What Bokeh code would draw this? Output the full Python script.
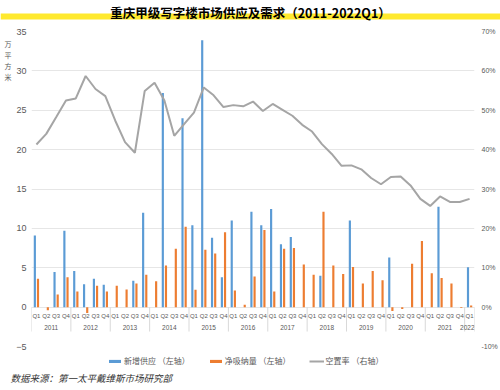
from bokeh.plotting import figure
from bokeh.layouts import column, row
from bokeh.models import (ColumnDataSource, Range1d, LinearAxis, FixedTicker,
                          PrintfTickFormatter, Legend, LegendItem, Label, BoxAnnotation)
from bokeh.transform import dodge
from bokeh.core.properties import value
from bokeh.embed import file_html
from bokeh.resources import INLINE

# ---------------- data ----------------
years = ["2011", "2012", "2013", "2014", "2015", "2016",
         "2017", "2018", "2019", "2020", "2021", "2022"]
quarters_per_year = [4, 4, 4, 4, 4, 4, 4, 4, 4, 4, 4, 1]

# 新增供应 (万平方米, left axis)
supply = [9.1, 0, 4.45, 9.7,
          4.6, 2.9, 3.6, 2.85,
          0, 0, 3.35, 12.0,
          0, 27.2, 0, 24.0,
          10.4, 33.9, 8.8, 3.8,
          11.0, 0, 12.1, 10.4,
          12.45, 8.0, 8.9, 0,
          0, 4.0, 0, 0,
          11.0, 0, 0, 0,
          6.3, 0, 0, 0,
          0, 12.75, 0, 0,
          5.05]

# 净吸纳量 (万平方米, left axis)
absorption = [3.6, -0.4, 1.6, 3.8,
              2.0, -0.75, 2.7, 2.0,
              2.7, 2.25, 3.0, 4.1,
              3.3, 5.3, 7.4, 10.2,
              2.2, 7.3, 6.8, 9.5,
              2.1, 0.3, 3.9, 9.8,
              2.0, 7.4, 7.5, 5.4,
              4.1, 12.1, 5.3, 4.2,
              5.1, 3.0, 4.6, 3.4,
              -0.5, -0.25, 5.5, 8.4,
              4.3, 3.7, 3.0, -0.1,
              0.2]

# 空置率 (%, right axis)
vacancy = [41.3, 44.0, 48.2, 52.5,
           53.0, 58.7, 55.4, 53.6,
           47.4, 41.9, 39.2, 54.9,
           57.0, 52.5, 43.5, 46.5,
           49.4, 55.8, 53.8, 50.8,
           51.3, 51.0, 52.2, 49.8,
           51.6, 50.1, 48.6, 46.3,
           44.6, 41.4, 38.9, 35.9,
           36.0, 35.0, 32.8, 31.2,
           33.05, 33.2, 30.9, 27.5,
           25.7, 28.1, 26.7, 26.7,
           27.5]

left_ticks = [-5, 0, 5, 10, 15, 20, 25, 30, 35]
right_ticks = [-10, 0, 10, 20, 30, 40, 50, 60, 70]

title_text = "重庆甲级写字楼市场供应及需求（2011-2022Q1）"
unit_text = "万\n平\n方\n米"
source_text = "数据来源：第一太平戴维斯市场研究部"
legend_labels = ["新增供应 （左轴）", "净吸纳量 （左轴）", "空置率 （右轴）"]

# ---------------- derived ----------------
q_lab = []
for yr, n in zip(years, quarters_per_year):
    for q in range(n):
        q_lab.append("Q%d" % (q + 1))
xs = list(range(len(q_lab)))

year_x, year_align, bounds = [], [], [-0.5]
start = 0
for yr, n in zip(years, quarters_per_year):
    if n >= 2:
        year_x.append(start + (n - 1) / 2)
        year_align.append("center")
    else:  # single-quarter group at the right edge: keep label inside
        year_x.append(start + n - 0.5)
        year_align.append("right")
    start += n
    bounds.append(start - 0.5)

src = ColumnDataSource(dict(x=xs, quarter=q_lab, supply=supply,
                            absorption=absorption, vacancy=vacancy))
ysrc = ColumnDataSource(dict(x=year_x, year=years, align=year_align))
bsrc = ColumnDataSource(dict(x=bounds))

BLUE = "#5B9BD5"
ORANGE = "#ED7D31"
GRAY = "#A5A5A5"
TXT = "#595959"
CJK = "Noto Sans CJK SC"
NUM = "Liberation Sans"


def bare(w, h):
    f = figure(width=w, height=h, output_backend="svg", toolbar_location=None,
               title=None, x_range=Range1d(0, w), y_range=Range1d(0, h),
               x_axis_location=None, y_axis_location=None, min_border=0)
    f.grid.visible = False
    f.outline_line_color = None
    f.background_fill_color = "white"
    f.border_fill_color = "white"
    return f


# ---------------- header: title with yellow highlight ----------------
header = bare(500, 24)
header.add_layout(BoxAnnotation(bottom=5, top=11, fill_color="#FFE92E",
                                fill_alpha=1.0, line_color=None))
header.add_layout(Label(x=250, y=12.5, text=title_text, text_align="center",
                        text_baseline="middle", text_font=CJK,
                        text_font_size="12.5px", text_font_style="bold",
                        text_color="#000000"))

# ---------------- unit label strip ----------------
unitfig = bare(13, 328)
unitfig.add_layout(Label(x=7.5, y=320, text=unit_text, text_align="center",
                         text_baseline="top", text_font=CJK,
                         text_font_size="7px", text_color=TXT,
                         text_line_height=1.1))

# ---------------- main chart ----------------
p = figure(frame_width=443, frame_height=315, output_backend="svg",
           toolbar_location=None, title=None,
           x_range=Range1d(-0.5, len(xs) - 0.5), y_range=Range1d(-5, 35),
           x_axis_location=None,
           min_border_left=17, min_border_right=27, min_border_top=7,
           min_border_bottom=6)
p.extra_y_ranges = {"pct": Range1d(-10, 70)}
p.outline_line_color = None
p.background_fill_color = "white"
p.border_fill_color = "white"
p.xgrid.visible = False
p.ygrid.grid_line_color = "#E6E6E6"
p.ygrid.grid_line_width = 1

yax = p.yaxis[0]
yax.ticker = FixedTicker(ticks=left_ticks)
right = LinearAxis(y_range_name="pct", ticker=FixedTicker(ticks=right_ticks),
                   formatter=PrintfTickFormatter(format="%d%%"))
p.add_layout(right, "right")
for ax, fs in [(yax, "9px"), (right, "7px")]:
    ax.axis_line_color = None
    ax.major_tick_line_color = None
    ax.minor_tick_line_color = None
    ax.major_tick_out = 0
    ax.major_tick_in = 0
    ax.minor_tick_out = 0
    ax.minor_tick_in = 0
    ax.major_label_text_font = NUM
    ax.major_label_text_font_size = fs
    ax.major_label_text_color = TXT
yax.major_label_standoff = 5
right.major_label_standoff = 7

p.vbar(x=dodge("x", -0.16), top="supply", width=0.22, source=src,
       fill_color=BLUE, line_color=None)
p.vbar(x=dodge("x", 0.16), top="absorption", width=0.22, source=src,
       fill_color=ORANGE, line_color=None)
p.line("x", "vacancy", y_range_name="pct", source=src,
       line_color=GRAY, line_width=2)

# category axis drawn inside the plot (below zero)
p.segment(x0="x", y0=0, x1="x", y1=-3.1, source=bsrc,
          line_color="#D9D9D9", line_width=1)
p.text(x="x", y=-1.14, text="quarter", source=src, text_align="center",
       text_baseline="middle", text_font=value(NUM), text_font_size="6px",
       text_color=TXT)
p.text(x="x", y=-2.58, text="year", source=ysrc, text_align="align",
       text_baseline="middle", text_font=value(NUM), text_font_size="6.5px",
       text_color=TXT)

# ---------------- footer: legend + source ----------------
footer = bare(500, 38)
# legend proxies carry the real series but are not drawn in the footer
lb = footer.vbar(x="x", top="supply", width=0.22, source=src,
                 fill_color=BLUE, line_color=None, visible=False)
lo = footer.vbar(x="x", top="absorption", width=0.22, source=src,
                 fill_color=ORANGE, line_color=None, visible=False)
ll = footer.line(x="x", y="vacancy", source=src, line_color=GRAY,
                 line_width=2, visible=False)
legend = Legend(items=[LegendItem(label=legend_labels[0], renderers=[lb]),
                       LegendItem(label=legend_labels[1], renderers=[lo]),
                       LegendItem(label=legend_labels[2], renderers=[ll])],
                orientation="horizontal", location=(107, 24),
                glyph_width=15, glyph_height=4, label_height=10,
                label_standoff=2, spacing=18, padding=0, margin=0,
                border_line_color=None, background_fill_alpha=0,
                inactive_fill_alpha=0,
                label_text_font=CJK, label_text_font_size="8px",
                label_text_color=TXT)
footer.add_layout(legend)
footer.add_layout(Label(x=10, y=13, text=source_text, text_align="left",
                        text_baseline="middle", text_font=CJK,
                        text_font_size="9.5px", text_font_style="italic",
                        text_color="#333333"))

layout = column(header, row(unitfig, p), footer)
open("out.html", "w").write(file_html(layout, INLINE))
